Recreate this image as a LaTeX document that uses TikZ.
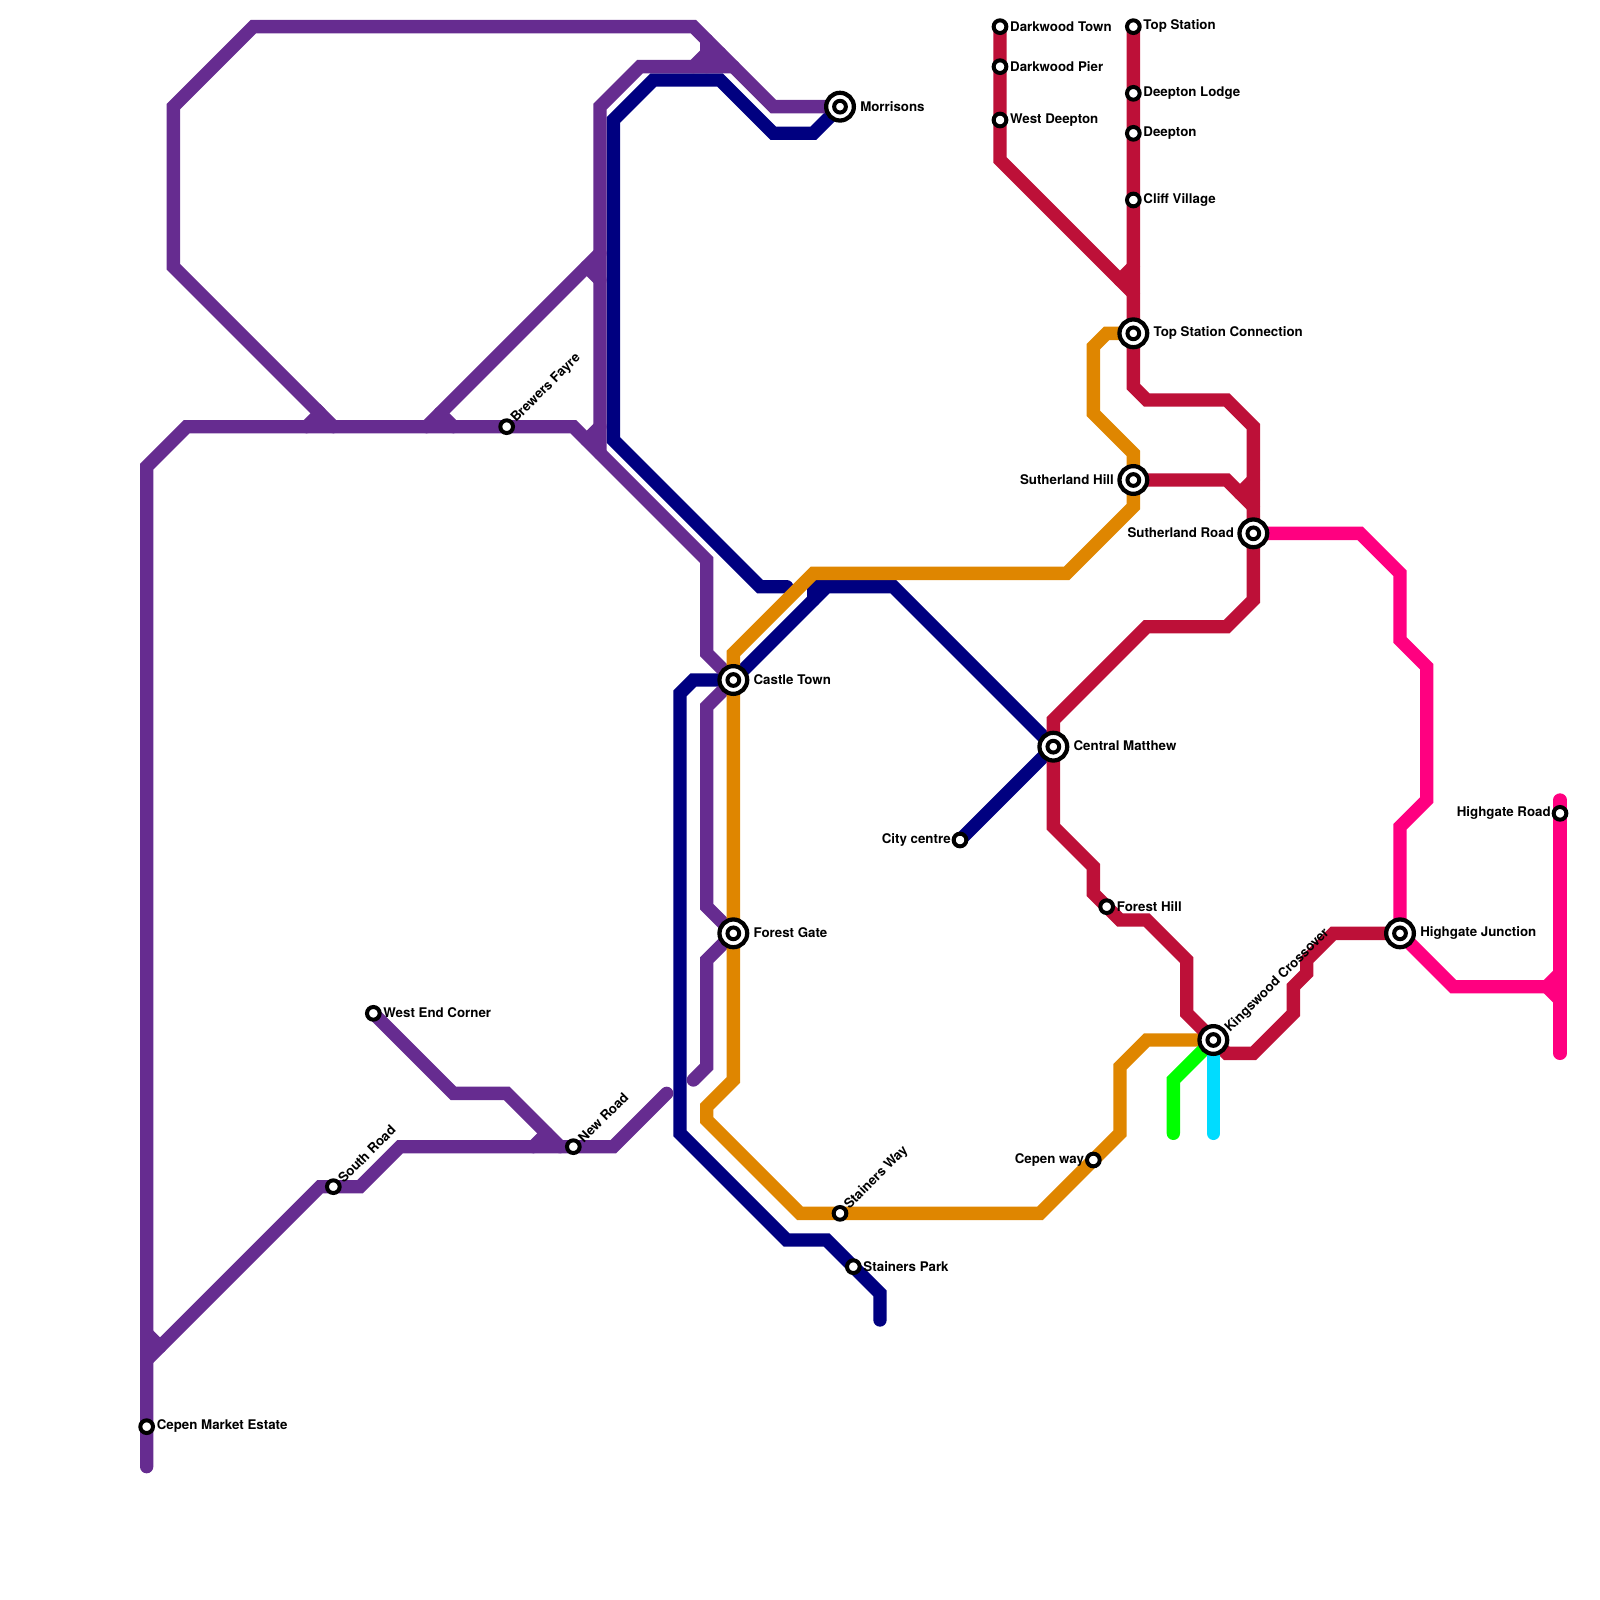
\documentclass[tikz,border=0pt]{standalone}
\usepackage{fontspec}
\setmainfont{TeX Gyre Heros}
\tikzset{
  line/.style={line width=2.5mm,line cap=round,line join=miter,miter limit=10},
  purple line/.style={line,draw=cpurple},
  navy line/.style={line,draw=cnavy},
  orange line/.style={line,draw=corange},
  crimson line/.style={line,draw=ccrimson},
  pink line/.style={line,draw=cpink},
  green line/.style={line,draw=cgreen},
  cyan line/.style={line,draw=ccyan},
  stn/.style={circle,draw=black,fill=white,line width=0.75mm,minimum size=2.38mm,inner sep=0pt,outer sep=0pt},
  istn/.style={circle,draw=black,fill=white,line width=0.8mm,minimum size=5.2mm,inner sep=0pt,outer sep=0pt},
  istnin/.style={circle,draw=black,fill=white,line width=0.75mm,minimum size=2.2mm,inner sep=0pt,outer sep=0pt},
  lab/.style={font=\fontsize{7.1pt}{8pt}\selectfont\bfseries,inner sep=0pt,outer sep=0pt,text=black},
  lr/.style={lab,anchor=west,xshift=1.9mm,yshift=0.05mm},
  ll/.style={lab,anchor=east,xshift=-1.75mm,yshift=0.05mm},
  ilr/.style={lab,anchor=west,xshift=3.8mm,yshift=0.1mm},
  ill/.style={lab,anchor=east,xshift=-3.65mm,yshift=0.05mm},
  rot/.style={lab,anchor=west,rotate=45,xshift=1.75mm,yshift=-0.12mm},
  irot/.style={lab,anchor=west,rotate=45,xshift=3.18mm,yshift=-0.61mm},
}
\definecolor{cpurple}{HTML}{662C90}
\definecolor{cnavy}{HTML}{000080}
\definecolor{corange}{HTML}{DF8600}
\definecolor{ccrimson}{HTML}{BD1038}
\definecolor{cpink}{HTML}{FF0080}
\definecolor{cgreen}{HTML}{00FF00}
\definecolor{ccyan}{HTML}{00DCFF}
\begin{document}
\begin{tikzpicture}[x=0.25cm,y=-0.25cm]
\useasboundingbox (0,0) rectangle (120,120);
% station positions
\coordinate (morrisons) at (63,8);
\coordinate (castle) at (55,51);
\coordinate (forestgate) at (55,70);
\coordinate (central) at (79,56);
\coordinate (cityc) at (72,63);
\coordinate (topconn) at (85,25);
\coordinate (suthill) at (85,36);
\coordinate (sutroad) at (94,40);
\coordinate (kings) at (91,78);
\coordinate (highj) at (105,70);
\coordinate (highr) at (117,61);
\coordinate (darktown) at (75,2);
\coordinate (darkpier) at (75,5);
\coordinate (westd) at (75,9);
\coordinate (topst) at (85,2);
\coordinate (dlodge) at (85,7);
\coordinate (deepton) at (85,10);
\coordinate (cliff) at (85,15);
\coordinate (foresth) at (83,68);
\coordinate (cepenway) at (82,87);
\coordinate (swayst) at (63,91);
\coordinate (spark) at (64,95);
\coordinate (newroad) at (43,86);
\coordinate (south) at (25,89);
\coordinate (westend) at (28,76);
\coordinate (brewers) at (38,32);
\coordinate (cepenm) at (11,107);
% navy
\draw[navy line] (morrisons) -- (61,10) -- (58,10) -- (54,6) -- (49,6) -- (46,9) -- (46,33) -- (57,44) -- (59,44);
\draw[navy line] (castle) -- (52,51) -- (51,52) -- (51,85) -- (59,93) -- (62,93) -- (spark) -- (66,97) -- (66,99);
\draw[navy line] (castle) -- (62,44) -- (67,44) -- (central);
\draw[navy line] (61,45) -- (61,44) -- (62,44);
\draw[navy line] (central) -- (cityc);
% purple
\draw[purple line] (11,110) -- (11,35) -- (14,32) -- (43,32) -- (53,42) -- (53,49) -- (castle) -- (53,53) -- (53,68) -- (forestgate) -- (53,72) -- (53,80) -- (52,81);
\draw[purple line] (24,31) -- (13,20) -- (13,8) -- (19,2) -- (52,2) -- (58,8) -- (morrisons);
\draw[purple line] (23,32) -- (24,31) -- (25,32);
\draw[purple line] (45,19) -- (32,32);
\draw[purple line] (33,31) -- (34,32);
\draw[purple line] (44,20) -- (45,21);
\draw[purple line] (45,34) -- (45,8) -- (48,5) -- (55,5);
\draw[purple line] (45,32) -- (44,33);
\draw[purple line] (53,3) -- (53,4) -- (52,5);
\draw[purple line] (54,4) -- (53,5);
\draw[purple line] (11,100) -- (12,101);
\draw[purple line] (11,102) -- (12,101) -- (24,89) -- (27,89) -- (30,86) -- (46,86) -- (50,82);
\draw[purple line] (westend) -- (34,82) -- (38,82) -- (42,86);
\draw[purple line] (41,85) -- (40,86);
% orange
\draw[orange line] (topconn) -- (83,25) -- (82,26) -- (82,31) -- (85,34) -- (85,38) -- (80,43) -- (61,43) -- (55,49) -- (55,81) -- (53,83) -- (53,84) -- (60,91) -- (78,91) -- (84,85) -- (84,80) -- (86,78) -- (kings);
% crimson
\draw[crimson line] (darktown) -- (75,12) -- (85,22);
\draw[crimson line] (84,21) -- (85,20);
\draw[crimson line] (topst) -- (85,29) -- (86,30) -- (92,30) -- (94,32) -- (94,45) -- (92,47) -- (86,47) -- (79,54) -- (79,62) -- (82,65) -- (82,67) -- (84,69) -- (86,69) -- (89,72) -- (89,76) -- (kings) -- (92,79) -- (94,79) -- (97,76) -- (97,74) -- (98,73) -- (98,72) -- (100,70) -- (highj);
\draw[crimson line] (suthill) -- (92,36) -- (94,38);
\draw[crimson line] (93,37) -- (94,36);
% pink
\draw[pink line] (sutroad) -- (102,40) -- (105,43) -- (105,48) -- (107,50) -- (107,60) -- (105,62) -- (highj) -- (109,74) -- (116,74);
\draw[pink line] (117,60) -- (117,79);
\draw[pink line] (117,73) -- (116,74) -- (117,75);
% green, cyan
\draw[green line] (kings) -- (88,81) -- (88,85);
\draw[cyan line] (kings) -- (91,85);
% interchange stations
\foreach \c in {morrisons,castle,forestgate,central,topconn,suthill,sutroad,kings,highj}{
  \node[istn] (\c-o) at (\c) {};
  \node[istnin] (\c-i) at (\c) {};
}
% plain stations
\foreach \c in {cityc,highr,darktown,darkpier,westd,topst,dlodge,deepton,cliff,foresth,cepenway,swayst,spark,newroad,south,westend,brewers,cepenm}{
  \node[stn] (\c-s) at (\c) {};
}
% labels
\node[ilr] (l1) at (morrisons) {Morrisons};
\node[ilr] (l2) at (castle) {Castle Town};
\node[ilr] (l3) at (forestgate) {Forest Gate};
\node[ilr] (l4) at (central) {Central Matthew};
\node[ilr] (l5) at (topconn) {Top Station Connection};
\node[ill] (l6) at (suthill) {Sutherland Hill};
\node[ill] (l7) at (sutroad) {Sutherland Road};
\node[ilr] (l8) at (highj) {Highgate Junction};
\node[irot] (l9) at (kings) {Kingswood Crossover};
\node[ll] (l10) at (cityc) {City centre};
\node[ll] (l11) at (highr) {Highgate Road};
\node[lr] (l12) at (darktown) {Darkwood Town};
\node[lr] (l13) at (darkpier) {Darkwood Pier};
\node[lr] (l14) at (westd) {West Deepton};
\node[lr] (l15) at (topst) {Top Station};
\node[lr] (l16) at (dlodge) {Deepton Lodge};
\node[lr] (l17) at (deepton) {Deepton};
\node[lr] (l18) at (cliff) {Cliff Village};
\node[lr] (l19) at (foresth) {Forest Hill};
\node[ll] (l20) at (cepenway) {Cepen way};
\node[rot] (l21) at (swayst) {Stainers Way};
\node[lr] (l22) at (spark) {Stainers Park};
\node[rot] (l23) at (newroad) {New Road};
\node[rot] (l24) at (south) {South Road};
\node[lr] (l25) at (westend) {West End Corner};
\node[rot] (l26) at (brewers) {Brewers Fayre};
\node[lr] (l27) at (cepenm) {Cepen Market Estate};
\end{tikzpicture}
\end{document}
